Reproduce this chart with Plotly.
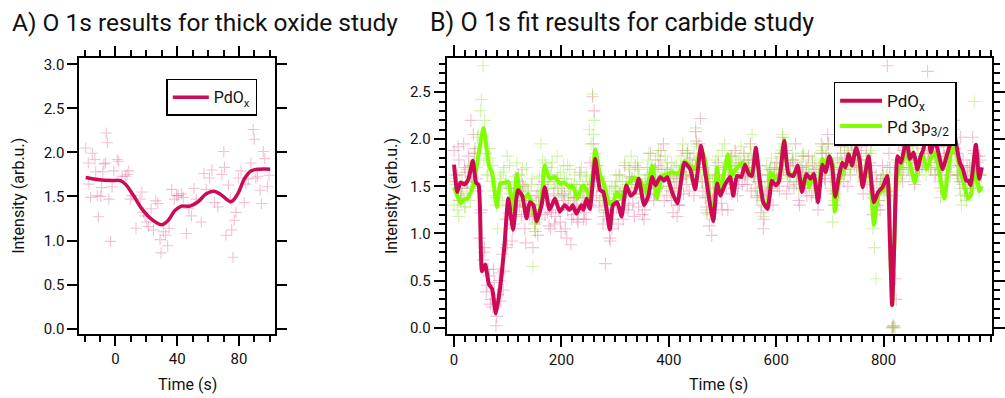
import plotly.graph_objects as go

# ---------------- Panel A: thick oxide study ----------------
a_line_t = [-19.3, -10.7, -2.2, 3.2, 6.4, 11.7, 17.1, 23.5, 29.9, 34.2, 38.5, 42.8,
            48.2, 53.5, 58.8, 63.8, 68.4, 74.9, 79.2, 83.5, 87.7, 93.1, 100.2]
a_line_v = [1.715, 1.69, 1.68, 1.68, 1.64, 1.51, 1.36, 1.24, 1.18, 1.23, 1.34, 1.39,
            1.39, 1.44, 1.53, 1.56, 1.52, 1.44, 1.53, 1.70, 1.79, 1.81, 1.81]

a_pts_t = [-19.3, -17.6, -17.2, -16.1, -15.0, -13.3, -12.8, -11.8, -11.1, -9.6, -9.0, -8.2,
           -7.5, -6.4, -6.0, -5.3, -4.3, -3.2, -2.2, -1.1, 1.1, 2.1, 4.3, 6.4, 7.5, 8.6,
           9.6, 10.7, 13.3, 16.0, 17.1, 18.2, 19.2, 20.3, 21.4, 23.1, 24.6, 26.1, 27.4,
           28.9, 29.5, 31.0, 32.5, 33.8, 34.7, 36.4, 38.1, 39.6, 40.6, 42.8, 43.9, 46.0,
           47.5, 49.2, 50.9, 52.4, 55.6, 57.3, 58.8, 61.0, 62.5, 64.2, 66.3, 68.9, 70.2,
           70.6, 71.6, 73.2, 74.4, 75.3, 76.1, 77.0, 78.1, 79.6, 81.3, 83.4, 84.5, 86.0,
           87.7, 89.2, 89.9, 90.9, 92.0, 93.7, 94.6, 95.8, 96.7, 98.4, 99.5]
a_pts_v = [2.05, 1.88, 1.64, 1.49, 1.99, 1.92, 1.78, 1.51, 1.27, 1.50, 1.60, 1.78,
           1.87, 1.88, 2.22, 2.11, 1.47, 0.99, 1.61, 1.79, 1.92, 1.90, 1.73, 1.73, 1.75, 1.79,
           1.47, 1.51, 1.14, 1.47, 1.55, 1.32, 1.28, 1.21, 1.16, 1.36, 1.12, 1.45, 1.42,
           1.01, 0.86, 1.10, 1.06, 0.94, 1.14, 1.58, 1.47, 1.51, 1.51, 1.53, 1.49, 1.08,
           1.36, 1.28, 1.59, 1.47, 1.21, 1.76, 1.58, 1.71, 1.80, 1.43, 1.38, 1.75, 2.01,
           1.83, 1.06, 1.63, 1.47, 1.12, 0.81, 1.23, 1.32, 1.71, 1.79, 1.43, 1.64, 1.70,
           1.88, 2.26, 2.15, 1.71, 1.73, 1.57, 1.42, 2.01, 1.93, 1.61, 1.74]

# ---------------- Panel B: carbide study ----------------
b_pdox_t = [0, 6, 12, 20, 27, 35, 41, 46, 52, 58, 65, 71, 78, 86, 94, 101, 110, 119, 127,
            135, 141, 148, 154, 163, 169, 178, 188, 197, 206, 215, 221, 228, 237, 241, 247,
            253, 263, 272, 278, 284, 290, 296, 304, 312, 321, 329, 337, 344, 354, 362, 369,
            375, 384, 391, 397, 406, 416, 429, 440, 449, 460, 467, 477, 483, 490, 496, 504,
            514, 520, 527, 535, 542, 549, 555, 562, 569, 576, 584, 592, 599, 605, 615, 623,
            632, 640, 648, 656, 664, 670, 678, 686, 692, 699, 704, 710, 717, 723, 729, 735,
            741, 749, 755, 761, 772, 782, 790, 798, 807, 812, 816, 820, 826, 832, 843, 849,
            856, 863, 869, 874, 882, 888, 895, 902, 910, 916, 922, 931, 942, 948, 954, 958,
            962, 972, 978, 983]
b_pdox_v = [1.73, 1.44, 1.54, 1.52, 1.58, 1.77, 1.54, 1.51, 0.60, 0.67, 0.46, 0.41, 0.15,
            0.43, 0.88, 1.37, 1.04, 1.46, 1.40, 1.16, 1.33, 1.30, 1.13, 1.30, 1.49, 1.25,
            1.37, 1.23, 1.30, 1.25, 1.30, 1.21, 1.30, 1.25, 1.37, 1.26, 1.79, 1.46, 1.44,
            1.26, 1.04, 1.30, 1.33, 1.18, 1.51, 1.40, 1.44, 1.58, 1.30, 1.40, 1.60, 1.51,
            1.60, 1.56, 1.60, 1.44, 1.32, 1.75, 1.68, 1.47, 1.93, 1.68, 1.30, 1.13, 1.53,
            1.40, 1.51, 1.60, 1.40, 1.61, 1.60, 1.73, 1.63, 1.61, 1.91, 1.58, 1.33, 1.26,
            1.56, 1.51, 1.55, 1.98, 1.63, 1.61, 1.72, 1.44, 1.63, 1.58, 1.63, 1.33, 1.73,
            1.65, 1.82, 1.72, 1.39, 1.61, 1.75, 1.70, 1.84, 1.72, 1.91, 1.79, 1.49, 1.82,
            1.33, 1.44, 1.49, 1.61, 0.90, 0.24, 0.90, 1.82, 1.75, 2.00, 1.79, 1.86, 1.68,
            1.82, 1.89, 2.10, 1.86, 2.00, 1.86, 1.68, 1.79, 1.91, 2.05, 1.75, 1.68, 1.56,
            1.56, 1.51, 1.94, 1.58, 1.70]

b_pd3p_t = [0, 6, 12, 18, 25, 32, 37, 46, 55, 65, 71, 80, 86, 95, 101, 110, 117, 123, 132,
            138, 146, 154, 163, 169, 178, 188, 197, 206, 215, 221, 230, 238, 241, 248, 253,
            263, 271, 280, 289, 296, 304, 312, 321, 332, 340, 347, 357, 369, 378, 387, 397,
            406, 418, 429, 440, 448, 460, 467, 477, 483, 490, 496, 510, 517, 527, 538, 545,
            555, 562, 569, 576, 584, 590, 599, 606, 615, 623, 632, 640, 648, 656, 661, 668,
            678, 686, 692, 699, 705, 709, 717, 723, 729, 735, 741, 749, 755, 761, 772, 782,
            790, 798, 807, 812, 816, 820, 826, 832, 843, 849, 858, 863, 869, 874, 880, 888,
            895, 902, 913, 922, 931, 942, 948, 957, 962, 972, 978, 983]
b_pd3p_v = [1.49, 1.40, 1.32, 1.36, 1.37, 1.45, 1.53, 1.85, 2.12, 1.72, 1.64, 1.28, 1.53,
            1.54, 1.55, 1.26, 1.63, 1.44, 1.37, 1.42, 1.30, 1.11, 1.37, 1.72, 1.58, 1.60,
            1.53, 1.54, 1.49, 1.51, 1.37, 1.49, 1.51, 1.45, 1.37, 1.89, 1.65, 1.51, 1.32,
            1.33, 1.44, 1.37, 1.51, 1.58, 1.58, 1.56, 1.44, 1.72, 1.37, 1.61, 1.63, 1.65,
            1.63, 1.77, 1.72, 1.68, 1.89, 1.80, 1.33, 1.23, 1.70, 1.44, 1.84, 1.61, 1.70,
            1.75, 1.70, 1.65, 1.87, 1.58, 1.33, 1.30, 1.65, 1.58, 1.60, 2.00, 1.61, 1.63,
            1.68, 1.55, 1.58, 1.49, 1.60, 1.40, 1.79, 1.72, 1.82, 1.75, 1.23, 1.55, 1.65,
            1.72, 1.84, 1.72, 1.91, 1.79, 1.49, 1.80, 1.09, 1.40, 1.46, 1.58, 0.90, 0.24,
            0.90, 1.65, 1.72, 1.86, 1.75, 1.54, 1.68, 1.79, 1.82, 1.68, 1.80, 1.86, 1.72,
            1.37, 1.75, 1.97, 1.68, 1.56, 1.37, 1.40, 1.75, 1.45, 1.50]

# raw fit points: one pass sampled every 3 s, a second pass offset by 1.5 s every 6 s
b_pts_t = list(range(0, 984, 3))
b_pts_t2 = [1.5 + 6 * k for k in range(164)]

b_pdox_pts = [
    1.88, 1.55, 1.62, 1.78, 1.35, 1.48, 1.95, 1.65, 1.48, 1.82, 1.72, 1.60, 2.05, 1.90, 1.58, 1.45, 0.95, 1.25, 0.72, 0.85,
    0.38, 0.62, 0.55, 0.30, 0.22, 0.48, 0.02, 0.35, 0.50, 0.28, 0.78, 0.60, 1.15, 0.88, 1.22, 1.48, 0.92, 1.10, 1.48, 1.30,
    1.62, 1.35, 1.18, 1.50, 1.05, 1.28, 1.45, 1.20, 1.25, 0.85, 1.10, 1.40, 0.98, 1.15, 1.38, 1.52, 1.55, 1.35, 1.22, 1.08,
    1.05, 1.30, 1.42, 1.18, 1.58, 1.25, 1.12, 1.40, 1.35, 1.05, 0.95, 1.32, 1.48, 1.15, 1.20, 1.38, 1.30, 1.12, 1.65, 1.28,
    1.38, 1.22, 1.15, 1.48, 1.52, 1.30, 2.45, 2.30, 1.62, 1.50, 1.28, 1.55, 1.45, 1.18, 0.68, 1.25, 1.22, 0.92, 1.05, 1.35,
    1.50, 1.28, 1.10, 1.42, 1.38, 1.15, 1.72, 1.45, 1.25, 1.60, 1.55, 1.32, 1.18, 1.48, 1.70, 1.52, 1.42, 1.20, 1.15, 1.38,
    1.62, 1.40, 1.85, 1.55, 1.35, 1.68, 1.48, 1.72, 1.78, 1.50, 1.95, 1.62, 1.40, 1.58, 1.62, 1.35, 1.22, 1.48, 1.55, 1.30,
    1.30, 1.58, 1.88, 1.72, 1.60, 1.85, 1.45, 1.62, 1.72, 1.40, 2.08, 1.78, 1.95, 2.22, 1.55, 1.70, 1.38, 1.22, 1.62, 1.48,
    0.98, 1.22, 1.58, 1.40, 1.75, 1.55, 1.32, 1.62, 1.70, 1.48, 1.25, 1.68, 1.82, 1.55, 1.48, 1.72, 1.40, 1.58, 1.75, 1.52,
    1.85, 1.62, 1.52, 1.70, 1.95, 1.78, 1.60, 1.48, 1.38, 1.55, 1.72, 1.30, 1.05, 1.40, 1.42, 1.62, 1.68, 1.45, 1.30, 1.70,
    1.75, 1.50, 1.45, 1.62, 2.02, 1.85, 1.88, 1.55, 1.50, 1.72, 1.78, 1.48, 1.95, 1.62, 1.35, 1.55, 1.70, 1.82, 1.48, 1.40,
    1.82, 1.55, 1.40, 1.65, 1.68, 1.50, 1.25, 1.58, 1.95, 1.72, 1.58, 1.85, 2.05, 1.78, 1.62, 1.45, 1.30, 1.55, 1.80, 1.62,
    1.92, 1.75, 1.55, 1.68, 2.52, 1.85, 1.62, 1.95, 2.00, 1.78, 1.70, 1.88, 2.15, 1.92, 1.42, 1.60, 1.85, 1.72, 1.65, 1.98,
    1.20, 1.45, 1.62, 1.30, 1.35, 1.58, 1.72, 1.48, 1.48, 2.78, 1.85, 1.40, 0.00, 0.01, 0.52, 1.78, 1.95, 1.70, 1.62, 1.88,
    2.18, 1.92, 1.70, 1.85, 2.05, 1.78, 1.52, 1.95, 1.95, 1.68, 2.25, 2.00, 1.80, 1.72, 2.72, 1.88, 1.68, 2.02, 2.35, 1.82,
    1.75, 1.92, 1.48, 1.62, 1.92, 1.78, 2.08, 1.85, 1.62, 2.05, 2.20, 1.90, 1.85, 1.62, 1.55, 1.72, 1.78, 1.48, 1.40, 1.62,
    1.72, 1.55, 2.02, 1.85, 1.58, 1.75, 1.82, 1.62,
]
b_pdox_pts2 = [
    1.62, 1.92, 1.40, 1.70, 1.55, 2.20, 1.85, 1.50, 1.22, 0.80,
    0.45, 0.25, 0.62, 0.12, 0.58, 0.40, 0.85, 1.30, 1.05, 1.20,
    1.28, 1.52, 0.90, 1.35, 1.18, 1.02, 1.30, 1.45, 1.20, 1.40,
    1.22, 1.10, 1.48, 1.02, 1.42, 1.25, 0.88, 1.38, 1.15, 1.45,
    1.15, 1.32, 1.75, 1.95, 1.40, 1.35, 1.10, 1.30, 0.95, 1.15,
    1.35, 1.62, 1.22, 1.45, 1.30, 1.58, 1.72, 1.28, 1.52, 1.25,
    1.48, 1.70, 1.42, 1.55, 1.88, 1.35, 1.68, 1.45, 1.60, 1.18,
    1.65, 1.42, 1.52, 1.80, 1.62, 1.98, 1.70, 1.45, 1.28, 1.08,
    1.35, 1.62, 1.48, 1.25, 1.72, 1.58, 1.42, 1.88, 1.50, 1.65,
    1.60, 1.78, 1.45, 1.62, 1.40, 1.22, 1.15, 1.55, 1.48, 1.62,
    1.58, 1.85, 1.68, 1.42, 1.62, 1.75, 1.52, 1.30, 1.65, 1.72,
    1.48, 1.75, 1.38, 1.62, 1.85, 1.55, 1.95, 1.70, 1.42, 1.58,
    1.68, 1.85, 1.50, 1.95, 1.72, 2.05, 1.78, 1.60, 1.52, 1.75,
    1.38, 1.55, 1.25, 1.62, 1.45, 1.70, 0.02, 0.30, 1.68, 1.55,
    1.85, 2.02, 1.62, 1.78, 2.12, 1.70, 1.95, 1.85, 2.05, 1.62,
    1.95, 1.68, 1.82, 2.15, 1.72, 1.90, 1.62, 2.02, 1.55, 1.70,
    1.48, 1.88, 1.65, 1.78,
]

b_pd3p_pts = [
    1.30, 1.52, 1.25, 1.18, 1.45, 1.62, 1.38, 1.28, 1.55, 1.70, 1.35, 1.50, 1.48, 1.85, 1.70, 2.05, 1.92, 2.42, 2.78, 2.20,
    1.85, 1.62, 1.90, 1.55, 1.72, 1.40, 1.38, 1.05, 1.48, 1.62, 1.35, 1.70, 1.55, 1.82, 1.48, 1.42, 1.30, 1.20, 1.60, 1.75,
    1.55, 1.35, 1.62, 1.28, 1.48, 1.70, 1.40, 1.22, 1.52, 0.65, 1.05, 1.30, 1.45, 1.60, 1.95, 1.78, 1.55, 1.70, 1.48, 1.62,
    1.62, 1.75, 1.48, 1.55, 1.82, 1.40, 1.65, 1.50, 1.72, 1.38, 1.58, 1.45, 1.68, 1.52, 1.35, 1.62, 1.48, 1.25, 1.55, 1.70,
    1.52, 1.40, 1.62, 1.35, 2.10, 1.95, 2.48, 2.20, 1.85, 1.72, 1.60, 1.48, 1.38, 1.55, 1.25, 1.42, 1.15, 1.30, 1.50, 1.38,
    1.48, 1.55, 1.35, 1.62, 1.40, 1.28, 1.75, 1.52, 1.45, 1.68, 1.82, 1.55, 1.60, 1.42, 1.75, 1.62, 1.50, 1.38, 1.48, 1.55,
    1.70, 1.85, 1.62, 1.55, 1.42, 1.78, 1.65, 1.88, 1.58, 1.70, 1.55, 1.82, 1.68, 1.48, 1.62, 1.75, 1.55, 1.38, 1.72, 1.62,
    1.58, 1.82, 1.95, 1.70, 1.62, 1.88, 1.75, 1.58, 1.65, 1.85, 2.12, 1.92, 1.78, 1.62, 1.55, 1.68, 1.48, 1.25, 1.38, 1.55,
    1.15, 1.42, 1.72, 1.60, 1.82, 1.55, 1.48, 1.68, 1.95, 1.75, 1.62, 1.55, 1.80, 1.72, 1.68, 1.85, 1.62, 1.78, 1.92, 1.65,
    1.82, 1.70, 1.65, 1.78, 1.92, 2.05, 1.75, 1.58, 1.45, 1.62, 1.40, 1.35, 1.18, 1.50, 1.72, 1.62, 1.55, 1.80, 1.48, 1.68,
    1.62, 1.75, 1.58, 1.88, 2.05, 1.92, 1.80, 1.65, 1.72, 1.60, 1.85, 1.55, 1.78, 1.62, 1.48, 1.70, 1.82, 1.62, 1.55, 1.68,
    1.72, 1.58, 1.62, 1.45, 1.80, 1.68, 1.55, 1.72, 1.85, 1.92, 1.68, 1.78, 1.95, 1.70, 1.48, 1.12, 1.35, 1.58, 1.62, 1.75,
    1.85, 1.70, 1.62, 1.78, 1.92, 1.75, 1.68, 1.85, 2.05, 1.80, 1.72, 1.62, 1.95, 1.78, 1.55, 1.70, 1.82, 1.65, 1.72, 1.88,
    1.05, 0.85, 0.52, 1.35, 1.48, 1.55, 1.62, 1.40, 1.52, 1.70, 1.58, 1.45, 0.00, 0.02, 0.00, 1.62, 1.75, 1.58, 1.82, 1.68,
    1.92, 1.75, 1.82, 1.62, 1.70, 1.95, 1.55, 1.78, 1.85, 1.68, 2.05, 1.72, 1.90, 1.62, 1.85, 1.78, 1.70, 1.95, 1.82, 1.62,
    1.70, 1.55, 1.38, 1.45, 1.80, 1.68, 1.92, 1.75, 1.85, 2.00, 2.10, 1.78, 1.65, 1.58, 1.48, 1.30, 1.52, 1.42, 1.35, 1.55,
    1.62, 1.48, 1.78, 2.40, 1.55, 1.70, 1.45, 1.62,
]
b_pd3p_pts2 = [
    1.58, 1.35, 1.42, 1.28, 1.68, 1.55, 1.75, 2.02, 2.30, 1.78,
    1.62, 1.80, 1.45, 1.30, 1.58, 1.65, 1.52, 1.72, 1.40, 1.55,
    1.45, 1.68, 1.50, 1.35, 1.58, 1.12, 1.40, 1.62, 1.75, 1.52,
    1.70, 1.55, 1.62, 1.45, 1.58, 1.72, 1.40, 1.52, 1.38, 1.62,
    1.45, 1.60, 1.55, 2.05, 1.72, 1.58, 1.35, 1.22, 1.45, 1.30,
    1.62, 1.42, 1.55, 1.48, 1.70, 1.60, 1.52, 1.68, 1.42, 1.58,
    1.78, 1.55, 1.68, 1.82, 1.50, 1.62, 1.75, 1.58, 1.70, 1.48,
    1.72, 1.62, 1.85, 1.78, 1.60, 1.95, 1.82, 1.68, 1.40, 1.20,
    1.55, 1.78, 1.62, 1.88, 1.70, 1.65, 1.82, 1.58, 1.75, 1.68,
    1.75, 1.62, 1.85, 1.70, 1.55, 1.40, 1.28, 1.62, 1.70, 1.58,
    1.68, 1.82, 1.95, 1.72, 1.65, 1.78, 1.60, 1.70, 1.85, 1.62,
    1.65, 1.78, 1.52, 1.70, 1.88, 1.62, 1.80, 1.72, 1.30, 1.62,
    1.78, 1.65, 1.88, 1.72, 1.82, 1.95, 1.70, 1.62, 1.78, 1.85,
    1.42, 1.25, 1.55, 1.48, 1.62, 1.70, 0.00, 1.40, 1.72, 1.65,
    1.80, 1.68, 1.92, 1.75, 1.62, 1.85, 1.78, 1.70, 1.95, 1.72,
    1.62, 1.75, 1.55, 1.85, 1.70, 1.95, 1.62, 1.40, 1.55, 1.48,
    1.70, 1.58, 1.82, 1.62,
]

CRIMSON = "#CC0A55"
GREEN = "#80FF00"
PINK_PT = "rgba(222,80,140,0.36)"
GREEN_PT = "rgba(140,228,50,0.40)"
FONT = "Roboto"

W, H = 1005, 398

fig = go.Figure()


def cross_points(x, y, color, size, xa, ya):
    return go.Scatter(x=x, y=y, mode="markers", xaxis=xa, yaxis=ya,
                      marker=dict(symbol="cross-thin", size=size,
                                  line=dict(color=color, width=1.1)),
                      showlegend=False, hoverinfo="skip")


# Panel A
fig.add_trace(cross_points(a_pts_t, a_pts_v, PINK_PT, 8, "x", "y"))
fig.add_trace(go.Scatter(x=a_line_t, y=a_line_v, mode="lines", xaxis="x", yaxis="y",
                         line=dict(color=CRIMSON, width=3.5, shape="spline", smoothing=1.0),
                         name="PdO<sub>x</sub>", legend="legend"))

# Panel B
fig.add_trace(cross_points(b_pts_t, b_pdox_pts, PINK_PT, 9, "x2", "y2"))
fig.add_trace(cross_points(b_pts_t2, b_pdox_pts2, PINK_PT, 9, "x2", "y2"))
fig.add_trace(cross_points(b_pts_t, b_pd3p_pts, GREEN_PT, 9, "x2", "y2"))
fig.add_trace(cross_points(b_pts_t2, b_pd3p_pts2, GREEN_PT, 9, "x2", "y2"))
fig.add_trace(go.Scatter(x=b_pd3p_t, y=b_pd3p_v, mode="lines", xaxis="x2", yaxis="y2",
                         line=dict(color=GREEN, width=4, shape="spline", smoothing=0.5),
                         name="Pd 3p<sub>3/2</sub>", legend="legend2", legendrank=2))
fig.add_trace(go.Scatter(x=b_pdox_t, y=b_pdox_v, mode="lines", xaxis="x2", yaxis="y2",
                         line=dict(color=CRIMSON, width=4, shape="spline", smoothing=0.5),
                         name="PdO<sub>x</sub>", legend="legend2", legendrank=1))

axis_common = dict(showline=True, linecolor="black", linewidth=1.5, mirror="allticks",
                   ticks="outside", tickcolor="black", tickwidth=1.5, showgrid=False,
                   zeroline=False, tickfont=dict(family=FONT, size=15, color="#111"))
minor_common = dict(ticks="outside", tickcolor="black", tickwidth=1.5, ticklen=6)


def px_x(p):
    return p / W


def px_y(p):
    return 1 - p / H


fig.update_layout(
    width=W, height=H, margin=dict(l=0, r=0, t=0, b=0),
    paper_bgcolor="white", plot_bgcolor="white",
    font=dict(family=FONT, color="#111"),
    xaxis=dict(domain=[px_x(80), px_x(278)], range=[-23.5, 103.5], anchor="y",
               tickvals=[0, 40, 80], ticklen=10,
               minor=dict(dtick=10, tick0=0, **minor_common),
               **axis_common),
    yaxis=dict(domain=[px_y(337), px_y(57)], range=[-0.06, 3.07], anchor="x",
               tickvals=[0, 0.5, 1, 1.5, 2, 2.5, 3], tickformat=".1f", ticklen=10,
               **axis_common),
    xaxis2=dict(domain=[px_x(451), px_x(1002)], range=[-14, 1002], anchor="y2",
                tickvals=[0, 200, 400, 600, 800], ticklen=11,
                minor=dict(dtick=20, tick0=0, **minor_common),
                **axis_common),
    yaxis2=dict(domain=[px_y(337), px_y(57)], range=[-0.066, 2.86], anchor="x2",
                tickvals=[0, 0.5, 1, 1.5, 2, 2.5], tickformat=".1f", ticklen=11,
                minor=dict(dtick=0.1, tick0=0, **minor_common),
                **axis_common),
    legend=dict(x=px_x(168), y=px_y(78), xanchor="left", yanchor="top",
                bgcolor="white", bordercolor="black", borderwidth=1.5,
                itemwidth=36,
                font=dict(family=FONT, size=16, color="#111")),
    legend2=dict(x=px_x(842), y=px_y(81), xanchor="left", yanchor="top",
                 bgcolor="white", bordercolor="black", borderwidth=1.5,
                 tracegroupgap=0, itemwidth=42,
                 font=dict(family=FONT, size=17, color="#111")),
    showlegend=True,
)

annotations = [
    dict(text="A) O 1s results for thick oxide study", x=px_x(10), y=px_y(21),
         xanchor="left", yanchor="middle", font=dict(size=24.5)),
    dict(text="B) O 1s fit results for carbide study", x=px_x(432), y=px_y(21),
         xanchor="left", yanchor="middle", font=dict(size=25)),
    dict(text="Intensity (arb.u.)", x=px_x(18), y=px_y(197), textangle=-90,
         xanchor="center", yanchor="middle", font=dict(size=16)),
    dict(text="Intensity (arb.u.)", x=px_x(395), y=px_y(197), textangle=-90,
         xanchor="center", yanchor="middle", font=dict(size=16)),
    dict(text="Time (s)", x=px_x(189), y=px_y(388), xanchor="center",
         yanchor="middle", font=dict(size=16)),
    dict(text="Time (s)", x=px_x(726), y=px_y(388), xanchor="center",
         yanchor="middle", font=dict(size=16)),
]
for a in annotations:
    a.update(xref="paper", yref="paper", showarrow=False)
    a["font"].update(family=FONT, color="#111")
fig.update_layout(annotations=annotations)

fig.write_html("out.html")
